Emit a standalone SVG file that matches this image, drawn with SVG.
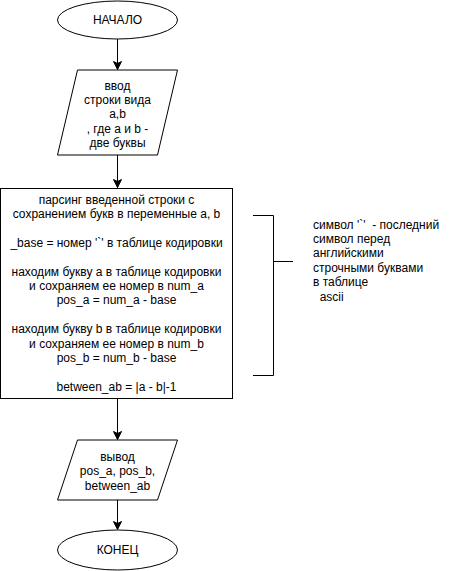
<svg xmlns="http://www.w3.org/2000/svg" width="454" height="571" viewBox="0 0 454 571">
<defs>
<style>
.s{fill:#fff;stroke:#000;stroke-width:1}
.t{font-family:"Liberation Sans",Arial,sans-serif;font-size:12px;fill:#000;text-anchor:middle}
.l{font-family:"Liberation Sans",Arial,sans-serif;font-size:12px;fill:#000}
.c{fill:none;stroke:#000;stroke-width:1}
</style>
<marker id="arr" markerUnits="userSpaceOnUse" markerWidth="12" markerHeight="12" viewBox="-10 -6 12 12" refX="0" refY="0" orient="auto" overflow="visible">
<path d="M0,0 L-8,-4 L-6,0 L-8,4 Z" fill="#000" stroke="#000" stroke-width="1"/>
</marker>
</defs>
<rect width="454" height="571" fill="#fff"/>
<g id="connectors">
<line class="c" x1="117.5" y1="39" x2="117.5" y2="69.5" marker-end="url(#arr)"/>
<line class="c" x1="117.5" y1="155" x2="117.5" y2="187.5" marker-end="url(#arr)"/>
<line class="c" x1="117.5" y1="398.5" x2="117.5" y2="439.5" marker-end="url(#arr)"/>
<line class="c" x1="117.5" y1="500" x2="117.5" y2="529.5" marker-end="url(#arr)"/>
</g>
<g id="start">
<ellipse class="s" cx="117.5" cy="20" rx="60" ry="19"/>
<text class="t" x="117.5" y="24">НАЧАЛО</text>
</g>
<g id="input">
<polygon class="s" points="77.5,70 177.5,70 157.5,155 57.5,155"/>
<text class="t" x="117.5" y="89.5">ввод</text>
<text class="t" x="117.5" y="103.9">строки вида</text>
<text class="t" x="117.5" y="118.3">a,b</text>
<text class="t" x="117.5" y="132.7">, где a и b -</text>
<text class="t" x="117.5" y="147.1">две буквы</text>
</g>
<g id="process">
<rect class="s" x="0.5" y="188.5" width="232" height="210"/>
<text class="t" x="116.5" y="203.6">парсинг введенной строки с</text>
<text class="t" x="116.5" y="218">сохранением букв в переменные a, b</text>
<text class="t" x="116.5" y="246.8">_base = номер '`' в таблице кодировки</text>
<text class="t" x="116.5" y="275.6">находим букву a в таблице кодировки</text>
<text class="t" x="116.5" y="290">и сохраняем ее номер в num_a</text>
<text class="t" x="116.5" y="304.4">pos_a = num_a - base</text>
<text class="t" x="116.5" y="333.2">находим букву b в таблице кодировки</text>
<text class="t" x="116.5" y="347.6">и сохраняем ее номер в num_b</text>
<text class="t" x="116.5" y="362">pos_b = num_b - base</text>
<text class="t" x="116.5" y="390.8">between_ab = |a - b|-1</text>
</g>
<g id="output">
<polygon class="s" points="77.5,440 177.5,440 157.5,500 57.5,500"/>
<text class="t" x="117.5" y="461">вывод</text>
<text class="t" x="117.5" y="475.4">pos_a, pos_b,</text>
<text class="t" x="117.5" y="489.8">between_ab</text>
</g>
<g id="end">
<ellipse class="s" cx="117.5" cy="550" rx="60" ry="20"/>
<text class="t" x="117.5" y="554">КОНЕЦ</text>
</g>
<g id="annotation">
<path class="c" d="M253,215.5 H273.5 V375.5 H253"/>
<line class="c" x1="273.5" y1="261.5" x2="293" y2="261.5"/>
<text class="l" x="313" y="228.5" xml:space="preserve">символ '`'  - последний</text>
<text class="l" x="313" y="242.9">символ перед</text>
<text class="l" x="313" y="257.3">английскими</text>
<text class="l" x="313" y="271.7">строчными буквами</text>
<text class="l" x="313" y="286.1">в таблице</text>
<text class="l" x="313" y="300.5" xml:space="preserve">  ascii</text>
</g>
</svg>
